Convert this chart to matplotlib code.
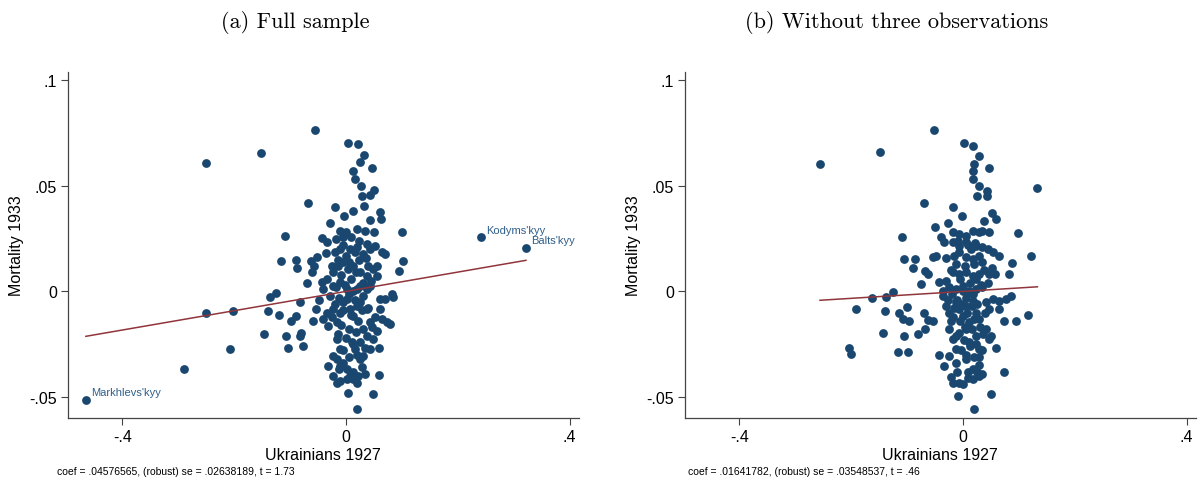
import matplotlib
matplotlib.use("Agg")
import matplotlib.pyplot as plt
import numpy as np

# panel (a): full sample
xa = [-0.465, 0.241, 0.322, -0.290, -0.2497, -0.2017, -0.2065, -0.251, -0.151, -0.0556,
      0.003, 0.021, 0.032, 0.025, 0.047, 0.0125, 0.017, 0.0275, 0.050, 0.043, 0.029,
      -0.067, -0.019, 0.032, -0.003, 0.0125, 0.061, 0.063, 0.043, -0.028, 0.0998, -0.1087, -0.0436, -0.0346,
      -0.011, 0.001, 0.019, 0.034, 0.050,
      -0.017, -0.005, 0.010, 0.024, 0.037, 0.052, 0.064, 0.070,
      -0.020, -0.011, 0.001, 0.016, 0.031, 0.043,
      -0.1165, -0.089, -0.0866, -0.063, -0.057, -0.0615, -0.051, 0.1027, 0.0955, -0.070,
      -0.0436, -0.0346, -0.0227, -0.0137, -0.0048, 0.0042, 0.0131, 0.0251, 0.037, 0.049, 0.055,
      -0.0406, -0.0227, -0.0108, 0.0012, 0.0131, 0.0251, 0.037, 0.043,
      -0.136, -0.125, -0.139, -0.1195, -0.0974, -0.0884, -0.0824, -0.048, -0.0526,
      -0.0585, -0.0406, -0.0346, -0.0317, -0.0227, -0.0167, -0.0108, -0.0048, 0.0012, 0.0072,
      0.0131, 0.0191, 0.0251, 0.031, 0.037, 0.043,
      0.061, 0.070, 0.0818, 0.0836, 0.061, 0.052, 0.064, 0.073, 0.079, 0.046, 0.055, 0.049,
      -0.147, -0.1075, -0.103, -0.081, -0.0818, -0.0765,
      -0.0167, -0.0108, -0.0227, -0.0167, -0.0048, 0.0102, 0.0161, 0.0251, 0.031, 0.043, 0.059,
      -0.0317, -0.0108, 0.0012, 0.0131, 0.0221,
      -0.0227, -0.0167, -0.0108, 0.0012, 0.0131, 0.0191, 0.034, 0.059, 0.004, 0.048, 0.020,
      -0.005, 0.008, 0.020, -0.015, 0.005, 0.024, 0.036, -0.008, 0.010, 0.018, 0.030, -0.018,
      -0.002, 0.020, -0.028, -0.012, 0.006, 0.016, 0.028, -0.020, -0.005, 0.010, 0.022, -0.025,
      -0.008, 0.005, 0.018, 0.030, -0.015, 0.000, 0.012, 0.025, 0.038, -0.005, 0.006, 0.020,
      0.035, -0.012, 0.008, 0.028, 0.040, 0.045, -0.035, -0.025, 0.055, 0.040]
ya = [-0.0514, 0.0256, 0.0206, -0.0369, -0.0100, -0.0095, -0.0271, 0.0611, 0.0657, 0.0763,
      0.0702, 0.0698, 0.0647, 0.0612, 0.0584, 0.0573, 0.0533, 0.0498, 0.0481, 0.0457, 0.0454,
      0.0419, 0.0399, 0.0407, 0.0359, 0.0383, 0.0378, 0.0343, 0.0339, 0.0324, 0.0280, 0.0261, 0.0253, 0.0233,
      0.0288, 0.0280, 0.0296, 0.0288, 0.0280,
      0.0248, 0.0256, 0.0256, 0.0240, 0.0225, 0.0217, 0.0185, 0.0177,
      0.0185, 0.0201, 0.0169, 0.0185, 0.0177, 0.0201,
      0.0144, 0.0149, 0.0109, 0.0144, 0.0122, 0.0090, 0.0161, 0.0144, 0.0095, 0.0040,
      0.0043, 0.0059, 0.0090, 0.0122, 0.0138, 0.0106, 0.0122, 0.0090, 0.0074, 0.0106, 0.0074,
      0.0011, 0.0027, 0.0043, 0.0011, 0.0003, 0.0027, 0.0011, 0.0027,
      -0.0028, -0.0008, -0.0092, -0.0110, -0.0139, -0.0115, -0.0052, -0.0040, -0.0084,
      -0.0139, -0.0131, -0.0100, -0.0163, -0.0084, -0.0147, -0.0100, -0.0052, -0.0036, -0.0084,
      -0.0115, -0.0068, -0.0052, -0.0021, -0.0084, -0.0147,
      -0.0036, -0.0036, -0.0013, -0.0028, -0.0084, -0.0123, -0.0131, -0.0147, -0.0155, -0.0171, -0.0187, -0.0226,
      -0.0200, -0.0210, -0.0270, -0.0199, -0.0210, -0.0260,
      -0.0226, -0.0274, -0.0305, -0.0321, -0.0337, -0.0242, -0.0274, -0.0321, -0.0305, -0.0274, -0.0270,
      -0.0353, -0.0353, -0.0369, -0.0384, -0.0400,
      -0.0400, -0.0432, -0.0424, -0.0416, -0.0416, -0.0432, -0.0392, -0.0396, -0.0480, -0.0487, -0.0558,
      0.022, 0.020, 0.021, 0.015, 0.014, 0.015, 0.016, 0.008, 0.006, 0.009, 0.004, 0.002,
      0.003, 0.001, -0.002, -0.003, -0.001, -0.004, -0.009, -0.006, -0.009, -0.011, -0.014, -0.012,
      -0.016, -0.018, -0.019, -0.018, -0.020, -0.022, -0.025, -0.024, -0.021, -0.028, -0.031, -0.030,
      -0.027, -0.037, -0.040, -0.036, -0.008, 0.005, 0.018, 0.012, 0.012, 0.012]

# panel (b): without Markhlevs'kyy, Kodyms'kyy, Balts'kyy
xb = [-0.2555, -0.1476, -0.0512,
      0.0024, 0.0173, 0.029, 0.0458, 0.020, 0.018, 0.018, 0.028, 0.043, 0.0435, 0.0244, 0.1333,
      -0.070, -0.0185, -0.0018, 0.052, 0.059, 0.038, -0.026, -0.050, 0.0994, -0.1095, -0.039, -0.033,
      -0.0185, -0.0065, 0.0054, 0.0173, 0.0292, 0.035, 0.047,
      -0.0185, -0.0065, 0.0054, 0.0143, 0.0232, 0.035, 0.044, 0.053, 0.065,
      -0.0155, -0.0065, 0.0054, 0.0173, 0.0292,
      -0.1048, -0.0857, -0.090, -0.054, -0.048, -0.067, -0.063, 0.087, 0.1214, 0.0827, -0.075,
      -0.042, -0.030, -0.0185, -0.0065, 0.0054, 0.0173, 0.0292, 0.047, 0.057,
      -0.036, -0.024, -0.0125, -0.0006, 0.0113, 0.0232, 0.035,
      -0.163, -0.1375, -0.1244, -0.191, -0.1387, -0.1137, -0.1006, -0.108, -0.096,
      -0.070, -0.063, -0.054,
      -0.036, -0.030, -0.024, -0.0185, -0.0125, -0.0065, -0.0006, 0.0054, 0.0113, 0.0173, 0.0232, 0.0292, 0.041, 0.047,
      0.053, 0.065, 0.0768, 0.0857, 0.065, 0.0738, 0.0946, 0.117,
      -0.142, -0.106, -0.081, -0.067, -0.116, -0.098, -0.204, -0.200,
      -0.024, -0.0185, -0.0125, -0.0065, 0.0054, 0.0113, 0.0232, 0.0292, 0.041, 0.047, 0.050, 0.059,
      -0.042, -0.033, -0.024, -0.0125, 0.0054, 0.0173, 0.0292, 0.026,
      -0.0214, -0.0185, -0.0065, -0.0006, 0.0083, 0.0173, 0.0292, 0.035, 0.0738, -0.0095, 0.050, 0.0202,
      -0.008, 0.010, 0.022, -0.012, 0.004, 0.020, 0.034, -0.006, 0.012, 0.024, 0.032, -0.020,
      0.000, 0.018, -0.026, -0.010, 0.006, 0.016, 0.026, -0.016, -0.003, 0.008, 0.020, -0.022,
      -0.006, 0.004, 0.016, 0.030, -0.012, 0.002, 0.012, 0.024, 0.036, -0.004, 0.006, 0.020,
      0.034, -0.010, 0.010, 0.028, 0.040, 0.044, -0.030, -0.022, 0.052, 0.038]
yb = [0.0606, 0.0660, 0.0763,
      0.0702, 0.0691, 0.0644, 0.0584, 0.0604, 0.0573, 0.0533, 0.0498, 0.0478, 0.0451, 0.0451, 0.0490,
      0.0419, 0.0399, 0.0359, 0.0372, 0.0343, 0.0335, 0.0324, 0.0304, 0.0277, 0.0260, 0.0256, 0.0233,
      0.0280, 0.0272, 0.0264, 0.0288, 0.0280, 0.0288, 0.0280,
      0.0233, 0.0217, 0.0233, 0.0201, 0.0217, 0.0209, 0.0201, 0.0185, 0.0169,
      0.0169, 0.0185, 0.0161, 0.0153, 0.0169,
      0.0153, 0.0153, 0.0109, 0.0161, 0.0169, 0.0098, 0.0082, 0.0134, 0.0166, 0.0082, 0.0035,
      0.0043, 0.0051, 0.0090, 0.0082, 0.0090, 0.0074, 0.0082, 0.0082, 0.0082,
      0.0003, 0.0019, 0.0011, 0.0027, 0.0003, 0.0011, 0.0019,
      -0.0030, -0.0028, -0.0005, -0.0084, -0.0095, -0.0103, -0.0076, -0.0130, -0.0139,
      -0.0100, -0.0136, -0.0142,
      -0.0021, -0.0068, -0.0100, -0.0123, -0.0052, -0.0084, -0.0115, -0.0068, -0.0147, -0.0044, -0.0100, -0.0131, -0.0052, -0.0084,
      -0.0036, -0.0044, -0.0036, -0.0021, -0.0084, -0.0139, -0.0142, -0.0112,
      -0.0198, -0.0210, -0.0203, -0.0179, -0.0286, -0.0285, -0.0270, -0.0297,
      -0.0179, -0.0226, -0.0274, -0.0195, -0.0179, -0.0242, -0.0210, -0.0274, -0.0179, -0.0226, -0.0210, -0.0267,
      -0.0302, -0.0353, -0.0305, -0.0337, -0.0321, -0.0369, -0.0313, -0.0384,
      -0.0408, -0.0432, -0.0432, -0.0440, -0.0384, -0.0416, -0.0400, -0.0392, -0.0384, -0.0495, -0.0487, -0.0555,
      0.024, 0.022, 0.023, 0.013, 0.012, 0.013, 0.014, 0.006, 0.004, 0.006, 0.003, -0.001,
      0.000, -0.001, -0.004, -0.004, -0.003, -0.007, -0.006, -0.008, -0.006, -0.010, -0.013, -0.014,
      -0.014, -0.017, -0.018, -0.017, -0.021, -0.023, -0.026, -0.025, -0.020, -0.028, -0.030, -0.031,
      -0.028, -0.038, -0.041, -0.035, -0.010, 0.004, 0.016, 0.010, 0.011, 0.010]

# labelled districts in panel (a)
lab_names = ["Markhlevs'kyy", "Kodyms'kyy", "Balts'kyy"]
lab_x = [-0.465, 0.241, 0.322]
lab_y = [-0.0514, 0.0256, 0.0206]

coef_a = 0.04576565
coef_b = 0.01641782
notes = ["coef = .04576565, (robust) se = .02638189, t = 1.73",
         "coef = .01641782, (robust) se = .03548537, t = .46"]
titles = ["(a) Full sample", "(b) Without three observations"]

yticks = [-0.05, 0, 0.05, 0.1]
ytick_labels = ["-.05", "0", ".05", ".1"]
xticks = [-0.4, 0, 0.4]
xtick_labels = ["-.4", "0", ".4"]

navy = "#1a476f"
maroon = "#90353b"
sans = ["Liberation Sans", "DejaVu Sans"]

fig = plt.figure(figsize=(11.99, 4.81), dpi=100)
plt.rcParams["font.family"] = sans

panels = [(xa, ya, coef_a, 0.0567), (xb, yb, coef_b, 0.5713)]
title_x = [295 / 1199, 897 / 1199]
note_x = [57 / 1199, 688 / 1199]

for i, (xs, ys, coef, left) in enumerate(panels):
    ax = fig.add_axes([left, 0.1289, 0.4258, 0.7193])
    ax.scatter(xs, ys, s=40, color=navy, linewidths=0, zorder=3)
    lx = np.array([min(xs), max(xs)])
    ax.plot(lx, coef * lx, color=maroon, lw=1.1, zorder=4)
    ax.set_xlim(-0.497, 0.416)
    ax.set_ylim(-0.060, 0.104)
    ax.set_xticks(xticks)
    ax.set_xticklabels(xtick_labels)
    ax.set_yticks(yticks)
    ax.set_yticklabels(ytick_labels)
    for s in ["top", "right"]:
        ax.spines[s].set_visible(False)
    for s in ["left", "bottom"]:
        ax.spines[s].set_color("#444444")
        ax.spines[s].set_linewidth(0.9)
    ax.tick_params(direction="out", length=5, width=0.8, color="#444444",
                   labelsize=11.5, pad=3)
    ax.set_xlabel("Ukrainians 1927", fontsize=11.5, labelpad=2)
    ax.set_ylabel("Mortality 1933", fontsize=11.5, labelpad=4)
    fig.text(note_x[i], 0.008, notes[i], fontsize=7.5, ha="left", va="bottom")
    fig.text(title_x[i], 0.953, titles[i], fontsize=16, ha="center", va="center",
             family=["cmr10", "DejaVu Serif"])
    if i == 0:
        for n, px, py in zip(lab_names, lab_x, lab_y):
            ax.annotate(n, (px, py), xytext=(4, 2), textcoords="offset points",
                        fontsize=8, color="#2f5f8a", ha="left", va="bottom")

fig.savefig("out.png", dpi=100)
